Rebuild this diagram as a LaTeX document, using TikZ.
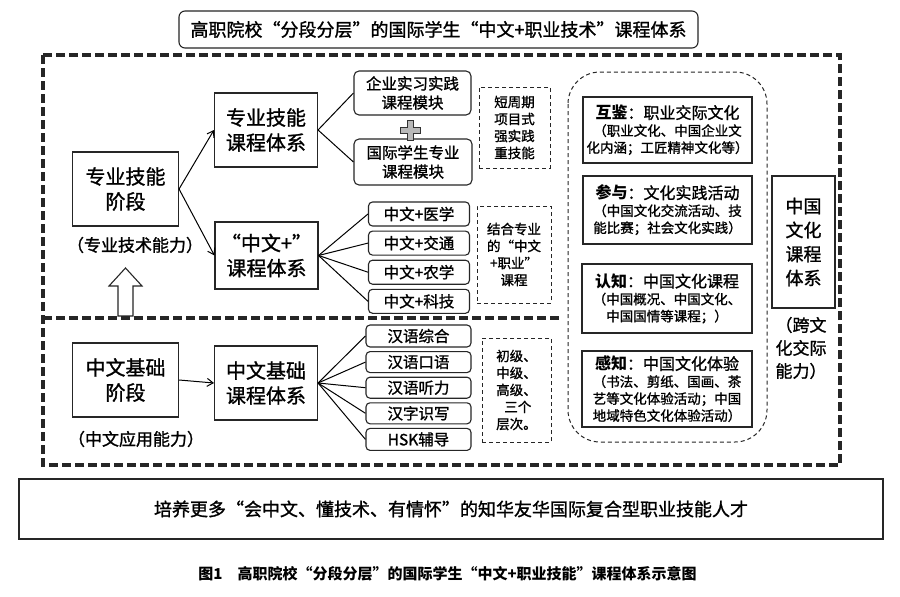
\documentclass[tikz,border=0pt]{standalone}
\usepackage{fontspec}
\setmainfont{Noto Sans CJK SC}[UprightFeatures={FakeBold=1.2}]
\usetikzlibrary{positioning,arrows.meta}
\newcommand\fsz[2]{\fontsize{#1}{#2}\selectfont}

\begin{document}
\begin{tikzpicture}[x=1pt,y=-1pt,
  box/.style={draw=black!85,line width=1.1pt,align=center,inner sep=0pt},
  bigbox/.style={box,minimum width=103pt,minimum height=74pt,font=\fsz{20}{25}},
  modbox/.style={box,rounded corners=5pt,minimum width=117pt,minimum height=45pt,font=\fsz{15.5}{19}},
  subbox/.style={box,rounded corners=4pt,minimum width=101pt,minimum height=24pt,font=\fsz{15.5}{18}},
  hanbox/.style={box,rounded corners=4pt,minimum width=105pt,minimum height=21pt,font=\fsz{15.5}{18}},
  notebox/.style={box,dashed,dash pattern=on 4pt off 3pt,line width=1pt,font=\fsz{13.5}{17}},
  culbox/.style={box,minimum width=170pt,font=\fsz{13.5}{17}},
  captext/.style={align=center,inner sep=0pt,font=\fsz{17}{23}},
  bigdash/.style={draw=black!85,line width=3.2pt,dash pattern=on 9pt off 4pt},
  -{Straight Barb[length=6pt,width=8pt]}]
  \useasboundingbox[fill=white] (0,0) rectangle (900,597);

  % title and frames
  \node[box,rounded corners=6pt,minimum width=519pt,minimum height=37pt,font=\fsz{18}{22}] (title) at (438.5,29.5)
    {高职院校“分段分层”的国际学生“中文+职业技术”课程体系};
  \draw[-,bigdash] (43,55) rectangle (840,465);
  \draw[-,bigdash] (43,318) -- (562,318);
  \draw[-,black!85,line width=1pt,dash pattern=on 4pt off 3pt,rounded corners=32pt] (568,72) rectangle (767,442);

  % professional stage
  \node[bigbox,minimum width=106pt] (stage1) at (125.5,189) {专业技能\\阶段};
  \node[captext] (cap1) at (135,245) {（专业技术能力）};
  \draw[-,black!85,line width=1.1pt] (118,316) -- (118,286) -- (109,286) -- (125.5,268) -- (142,286) -- (133,286) -- (133,316) -- cycle;
  \node[bigbox] (zyjn) at (266,130) {专业技能\\课程体系};
  \node[bigbox,minimum height=67pt] (zwplus) at (266.5,255.5) {“中文+”\\课程体系};
  \node[modbox,minimum height=44pt] (qysx) at (412.5,93) {企业实习实践\\课程模块};
  \node[modbox,minimum width=118pt,minimum height=46pt] (gjxs) at (413,162) {国际学生专业\\课程模块};
  \draw[-,draw=black!80,fill=gray!55,line width=0.9pt] (407.5,120) -- (413.5,120) -- (413.5,127) -- (420.5,127) -- (420.5,133) -- (413.5,133) -- (413.5,140) -- (407.5,140) -- (407.5,133) -- (400.5,133) -- (400.5,127) -- (407.5,127) -- cycle;
  \node[notebox,minimum width=71pt,minimum height=81pt] (note1) at (514.5,127.5) {短周期\\项目式\\强实践\\重技能};
  \node[subbox] (yixue) at (419,214) {中文+医学};
  \node[subbox,below=4pt of yixue] (jiaotong) {中文+交通};
  \node[subbox,below=4pt of jiaotong] (nongxue) {中文+农学};
  \node[subbox,below=4pt of nongxue] (keji) {中文+科技};
  \node[notebox,minimum width=74pt,minimum height=97pt] (note2) at (514,254.5) {结合专业\\的“中文\\+职业”\\课程};

  \draw[line width=1pt] (stage1.east) -- (zyjn.west);
  \draw[line width=1pt] (stage1.east) -- (zwplus.west);
  \draw[-,line width=1pt] (zyjn.east) -- (qysx.west);
  \draw[-,line width=1pt] (zyjn.east) -- (gjxs.west);
  \foreach \n in {yixue,jiaotong,nongxue,keji}
    \draw[-,line width=1pt] (zwplus.east) -- (\n.west);

  % chinese basic stage
  \node[bigbox,minimum width=106pt] (stage2) at (125.5,380) {中文基础\\阶段};
  \node[captext] (cap2) at (136,439) {（中文应用能力）};
  \node[bigbox] (zwjc) at (266,383) {中文基础\\课程体系};
  \node[hanbox,minimum height=22pt] (hyzh) at (418.5,336) {汉语综合};
  \node[hanbox,below=3.5pt of hyzh] (hyky) {汉语口语};
  \node[hanbox,below=3.5pt of hyky] (hytl) {汉语听力};
  \node[hanbox,below=3.5pt of hytl] (hzsx) {汉字识写};
  \node[hanbox,below=3.5pt of hzsx,minimum height=22pt] (hsk) {HSK辅导};
  \node[notebox,minimum width=69pt,minimum height=104pt,align=left] (note3) at (516.5,390)
    {初级、\\中级、\\高级、\\\hspace*{0.6em}三个\\层次。};

  \draw[line width=1pt] (stage2.east) -- (zwjc.west);
  \foreach \n in {hyzh,hyky,hytl,hzsx,hsk}
    \draw[-,line width=1pt] (zwjc.east) -- (\n.west);

  % chinese culture
  \node[culbox,minimum width=169pt,minimum height=66pt] (hujian) at (667.5,130)
    {{\fsz{16}{20}\textbf{互鉴}：职业交际文化}\\（职业文化、中国企业文\\化内涵；工匠精神文化等）};
  \node[culbox,minimum width=169pt,minimum height=68pt] (canyu) at (667.5,210)
    {{\fsz{16}{20}\textbf{参与}：文化实践活动}\\（中国文化交流活动、技\\能比赛；社会文化实践）};
  \node[culbox,minimum height=69pt] (renzhi) at (667,298.5)
    {{\fsz{16}{20}\textbf{认知}：中国文化课程}\\（中国概况、中国文化、\\中国国情等课程；）};
  \node[culbox,minimum height=76pt] (ganzhi) at (667,389)
    {{\fsz{16}{20}\textbf{感知}：中国文化体验}\\（书法、剪纸、国画、茶\\艺等文化体验活动；中国\\地域特色文化体验活动）};
  \node[box,minimum width=63pt,minimum height=132pt,font=\fsz{18}{24}] (zgwh) at (803.5,242) {中国\\文化\\课程\\体系};
  \node[captext] (cap3) at (801,348) {（跨文\\化交际\\能力）};

  % goal and caption
  \node[box,minimum width=864pt,minimum height=60pt,font=\fsz{18}{22}] (goal) at (451,509)
    {培养更多“会中文、懂技术、有情怀”的知华友华国际复合型职业技能人才};
  \node[inner sep=0pt,font=\fsz{15}{18}\bfseries] (caption) at (447.5,574)
    {图1\hspace{1em}高职院校“分段分层”的国际学生“中文+职业技能”课程体系示意图};
\end{tikzpicture}
\end{document}
